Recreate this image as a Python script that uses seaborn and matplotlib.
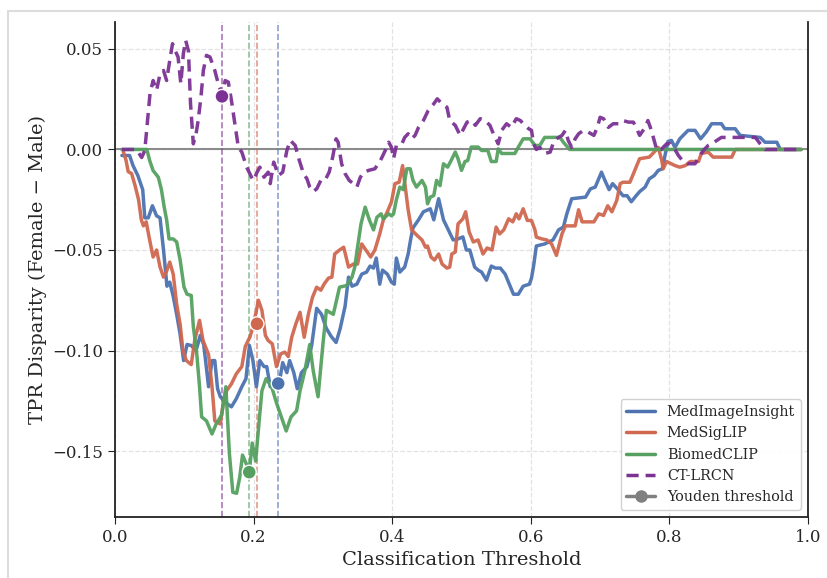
import numpy as np
import pandas as pd
import matplotlib
matplotlib.use("Agg")
import matplotlib.pyplot as plt
import seaborn as sns
from matplotlib.lines import Line2D
from matplotlib.patches import Rectangle

models = ["MedImageInsight", "MedSigLIP", "BiomedCLIP", "CT-LRCN"]
colors = ["#4C72B0", "#D0674F", "#55A060", "#7B3294"]

mii_t = [0.010, 0.021, 0.026, 0.033, 0.040, 0.043, 0.048, 0.054, 0.060, 0.065, 0.070, 0.075, 0.079, 0.084,
         0.089, 0.094, 0.099, 0.104, 0.110, 0.117, 0.123, 0.128, 0.135, 0.140, 0.144, 0.148, 0.152, 0.160,
         0.168, 0.175, 0.183, 0.189, 0.194, 0.199, 0.204, 0.209, 0.215, 0.219, 0.224, 0.231, 0.237, 0.242,
         0.248, 0.252, 0.258, 0.263, 0.269, 0.277, 0.284, 0.291, 0.298, 0.305, 0.312, 0.319, 0.325, 0.332,
         0.337, 0.342, 0.349, 0.356, 0.363, 0.368, 0.373, 0.377, 0.382, 0.386, 0.393, 0.399, 0.403, 0.406,
         0.411, 0.418, 0.423, 0.427, 0.430, 0.438, 0.445, 0.455, 0.460, 0.467, 0.474, 0.481, 0.488, 0.495,
         0.502, 0.507, 0.512, 0.519, 0.524, 0.529, 0.536, 0.543, 0.549, 0.556, 0.563, 0.569, 0.575, 0.582,
         0.589, 0.598, 0.601, 0.604, 0.608, 0.620, 0.632, 0.640, 0.647, 0.652, 0.659, 0.679, 0.686, 0.693,
         0.702, 0.707, 0.713, 0.718, 0.726, 0.733, 0.739, 0.745, 0.752, 0.757, 0.765, 0.771, 0.778, 0.784,
         0.790, 0.793, 0.798, 0.803, 0.808, 0.815, 0.827, 0.837, 0.845, 0.853, 0.861, 0.875, 0.880, 0.895,
         0.902, 0.931, 0.938, 0.955, 0.960, 0.990]
mii_v = [-0.003, -0.003, -0.008, -0.013, -0.020, -0.034, -0.034, -0.028, -0.033, -0.034, -0.050, -0.068, -0.066, -0.073,
         -0.082, -0.092, -0.105, -0.097, -0.0975, -0.100, -0.0925, -0.097, -0.118, -0.105, -0.105, -0.119, -0.123, -0.126,
         -0.128, -0.124, -0.118, -0.114, -0.0975, -0.105, -0.118, -0.105, -0.108, -0.108, -0.118, -0.118, -0.116, -0.106,
         -0.111, -0.105, -0.111, -0.119, -0.111, -0.108, -0.097, -0.079, -0.082, -0.089, -0.093, -0.096, -0.089, -0.078,
         -0.0635, -0.068, -0.067, -0.062, -0.061, -0.058, -0.059, -0.054, -0.067, -0.060, -0.062, -0.066, -0.067, -0.054,
         -0.061, -0.0585, -0.052, -0.044, -0.039, -0.035, -0.031, -0.0295, -0.035, -0.0245, -0.035, -0.040, -0.045, -0.0445,
         -0.0435, -0.050, -0.050, -0.0585, -0.060, -0.061, -0.065, -0.058, -0.059, -0.059, -0.062, -0.067, -0.072, -0.072,
         -0.068, -0.067, -0.064, -0.058, -0.048, -0.047, -0.045, -0.040, -0.0386, -0.032, -0.0245, -0.0237, -0.0196, -0.0187,
         -0.0113, -0.0154, -0.020, -0.017, -0.020, -0.023, -0.023, -0.026, -0.023, -0.021, -0.0187, -0.0146, -0.013, -0.0104,
         -0.0096, -0.004, 0.004, 0.0045, 0.001, 0.0053, 0.0095, 0.0095, 0.0053, 0.0086, 0.0128, 0.0128, 0.0103, 0.0103,
         0.007, 0.006, 0.0036, 0.0036, 0.0, 0.0]

msl_t = [0.012, 0.016, 0.019, 0.024, 0.029, 0.034, 0.038, 0.041, 0.045, 0.050, 0.055, 0.060, 0.065, 0.070,
         0.074, 0.079, 0.084, 0.089, 0.094, 0.098, 0.103, 0.110, 0.115, 0.122, 0.127, 0.135, 0.140, 0.144,
         0.152, 0.156, 0.161, 0.168, 0.175, 0.183, 0.188, 0.195, 0.200, 0.207, 0.212, 0.217, 0.221, 0.227,
         0.233, 0.239, 0.245, 0.250, 0.255, 0.261, 0.267, 0.273, 0.279, 0.285, 0.291, 0.297, 0.302, 0.308,
         0.313, 0.317, 0.324, 0.330, 0.337, 0.344, 0.350, 0.356, 0.362, 0.369, 0.375, 0.382, 0.387, 0.393,
         0.399, 0.404, 0.410, 0.415, 0.420, 0.423, 0.428, 0.436, 0.443, 0.448, 0.451, 0.456, 0.461, 0.467,
         0.472, 0.479, 0.483, 0.486, 0.491, 0.495, 0.502, 0.506, 0.511, 0.517, 0.524, 0.531, 0.537, 0.544,
         0.550, 0.555, 0.561, 0.568, 0.574, 0.579, 0.583, 0.589, 0.595, 0.601, 0.606, 0.608, 0.616, 0.623,
         0.630, 0.637, 0.645, 0.650, 0.664, 0.669, 0.674, 0.691, 0.698, 0.705, 0.711, 0.717, 0.724, 0.729,
         0.733, 0.743, 0.750, 0.757, 0.771, 0.778, 0.784, 0.789, 0.791, 0.796, 0.808, 0.815, 0.823, 0.830,
         0.842, 0.846, 0.856, 0.863, 0.890, 0.895, 0.990]
msl_v = [-0.001, -0.0055, -0.011, -0.012, -0.018, -0.025, -0.035, -0.038, -0.036, -0.045, -0.0535, -0.050, -0.0585, -0.0635,
         -0.061, -0.056, -0.062, -0.077, -0.087, -0.100, -0.105, -0.107, -0.095, -0.085, -0.095, -0.102, -0.118, -0.135,
         -0.1365, -0.1265, -0.120, -0.1166, -0.1116, -0.108, -0.098, -0.093, -0.087, -0.075, -0.080, -0.0925, -0.095, -0.0967,
         -0.108, -0.1017, -0.1008, -0.103, -0.0934, -0.0867, -0.081, -0.0934, -0.082, -0.0735, -0.0685, -0.070, -0.0668, -0.064,
         -0.0635, -0.052, -0.050, -0.0486, -0.0585, -0.057, -0.057, -0.047, -0.050, -0.0535, -0.050, -0.042, -0.0353, -0.031,
         -0.026, -0.017, -0.0163, -0.008, -0.022, -0.030, -0.040, -0.0428, -0.045, -0.0486, -0.048, -0.0535, -0.055, -0.052,
         -0.057, -0.059, -0.0585, -0.052, -0.051, -0.037, -0.0345, -0.031, -0.041, -0.046, -0.045, -0.052, -0.049, -0.050,
         -0.0386, -0.042, -0.040, -0.0345, -0.036, -0.032, -0.0345, -0.0295, -0.0353, -0.0353, -0.040, -0.0436, -0.0445, -0.045,
         -0.047, -0.0527, -0.042, -0.038, -0.038, -0.030, -0.036, -0.036, -0.032, -0.0328, -0.028, -0.031, -0.0254, -0.017,
         -0.0163, -0.0163, -0.0104, -0.0046, -0.0038, -0.0013, 0.001, -0.0055, -0.0096, -0.006, -0.008, -0.0088, -0.008, -0.006,
         -0.006, -0.002, -0.0013, -0.0038, -0.0038, 0.0, 0.0]

bmc_t = [0.010, 0.046, 0.050, 0.055, 0.0625, 0.067, 0.071, 0.0745, 0.078, 0.084, 0.089, 0.094, 0.0996, 0.104,
         0.110, 0.113, 0.118, 0.122, 0.125, 0.132, 0.140, 0.146, 0.154, 0.160, 0.165, 0.170, 0.1755, 0.180,
         0.184, 0.189, 0.194, 0.198, 0.203, 0.208, 0.212, 0.218, 0.226, 0.233, 0.240, 0.247, 0.254, 0.262,
         0.267, 0.274, 0.281, 0.286, 0.293, 0.300, 0.305, 0.315, 0.324, 0.334, 0.342, 0.346, 0.350, 0.355,
         0.361, 0.367, 0.373, 0.378, 0.384, 0.387, 0.395, 0.399, 0.402, 0.406, 0.411, 0.416, 0.421, 0.426,
         0.430, 0.435, 0.443, 0.448, 0.451, 0.455, 0.460, 0.464, 0.469, 0.474, 0.480, 0.485, 0.491, 0.495,
         0.500, 0.505, 0.509, 0.514, 0.524, 0.529, 0.538, 0.543, 0.550, 0.553, 0.558, 0.577, 0.582, 0.589,
         0.599, 0.606, 0.613, 0.620, 0.642, 0.647, 0.656, 0.990]
bmc_v = [0.0, 0.0, -0.0055, -0.0105, -0.0138, -0.020, -0.0287, -0.035, -0.0445, -0.0445, -0.046, -0.055, -0.0685, -0.072,
         -0.0726, -0.088, -0.1017, -0.118, -0.133, -0.135, -0.1415, -0.1365, -0.132, -0.118, -0.151, -0.1705, -0.171, -0.163,
         -0.152, -0.156, -0.160, -0.146, -0.155, -0.135, -0.120, -0.114, -0.118, -0.126, -0.133, -0.140, -0.133, -0.130,
         -0.120, -0.110, -0.097, -0.110, -0.123, -0.097, -0.080, -0.082, -0.0685, -0.0677, -0.0635, -0.0585, -0.0486, -0.037,
         -0.0287, -0.035, -0.040, -0.0337, -0.032, -0.0345, -0.032, -0.033, -0.032, -0.025, -0.0187, -0.020, -0.0096, -0.0096,
         -0.0154, -0.0187, -0.0154, -0.0187, -0.027, -0.0237, -0.0229, -0.0154, -0.018, -0.0071, -0.0088, -0.0055, -0.0013, -0.0046,
         -0.0104, -0.006, -0.0055, 0.0012, 0.0012, -0.0005, -0.0005, -0.006, -0.006, 0.0003, -0.002, -0.002, 0.0012, 0.0053,
         0.0053, 0.002, 0.002, 0.006, 0.006, 0.0036, 0.0, 0.0]

ctl_t = [0.010, 0.031, 0.0385, 0.043, 0.047, 0.0505, 0.055, 0.060, 0.065, 0.070, 0.0745, 0.079, 0.083, 0.087,
         0.091, 0.095, 0.0986, 0.102, 0.106, 0.109, 0.113, 0.117, 0.120, 0.124, 0.1275, 0.132, 0.137, 0.144,
         0.149, 0.155, 0.159, 0.1635, 0.168, 0.173, 0.178, 0.183, 0.190, 0.197, 0.200, 0.205, 0.209, 0.215,
         0.221, 0.224, 0.229, 0.236, 0.242, 0.248, 0.253, 0.260, 0.266, 0.272, 0.277, 0.281, 0.286, 0.291,
         0.297, 0.303, 0.309, 0.314, 0.319, 0.322, 0.327, 0.332, 0.338, 0.344, 0.349, 0.354, 0.359, 0.366,
         0.375, 0.383, 0.390, 0.395, 0.399, 0.402, 0.406, 0.414, 0.418, 0.423, 0.428, 0.433, 0.438, 0.445,
         0.452, 0.460, 0.465, 0.472, 0.479, 0.483, 0.491, 0.498, 0.503, 0.508, 0.515, 0.520, 0.527, 0.534,
         0.541, 0.546, 0.553, 0.558, 0.565, 0.572, 0.579, 0.585, 0.589, 0.597, 0.601, 0.604, 0.608, 0.613,
         0.620, 0.628, 0.632, 0.637, 0.645, 0.650, 0.654, 0.659, 0.664, 0.669, 0.676, 0.683, 0.691, 0.696,
         0.700, 0.705, 0.712, 0.719, 0.727, 0.733, 0.741, 0.748, 0.753, 0.757, 0.765, 0.769, 0.774, 0.778,
         0.782, 0.788, 0.796, 0.801, 0.808, 0.813, 0.820, 0.827, 0.837, 0.842, 0.849, 0.856, 0.861, 0.875,
         0.924, 0.931, 0.938, 0.990]
ctl_v = [0.0, 0.0, -0.004, -0.0005, 0.0144, 0.0277, 0.0343, 0.0294, 0.0376, 0.0393, 0.0343, 0.0443, 0.0526, 0.049,
         0.046, 0.0327, 0.0476, 0.0542, 0.049, 0.0227, 0.0028, 0.0078, 0.0144, 0.026, 0.0393, 0.0468, 0.046, 0.0393,
         0.0327, 0.027, 0.0343, 0.0335, 0.0244, 0.0128, 0.001, -0.0013, -0.0088, -0.0138, -0.0154, -0.0113, -0.0088, -0.0138,
         -0.0113, -0.017, -0.0063, -0.0129, -0.0113, -0.0005, 0.0045, 0.002, -0.0055, -0.012, -0.0146, -0.0187, -0.021, -0.0196,
         -0.0154, -0.0154, -0.0113, -0.004, 0.0053, 0.0036, -0.0071, -0.012, -0.0154, -0.017, -0.0187, -0.0138, -0.0113, -0.0104,
         -0.0096, -0.0055, -0.0005, 0.0036, 0.001, -0.0046, 0.002, 0.0028, 0.006, 0.0078, 0.0053, 0.007, 0.011, 0.0144,
         0.0194, 0.0227, 0.0252, 0.0227, 0.021, 0.0144, 0.012, 0.007, 0.0103, 0.0136, 0.0144, 0.012, 0.0153, 0.0144,
         0.012, 0.0078, 0.0028, 0.0095, 0.0128, 0.011, 0.0153, 0.0144, 0.0128, 0.0103, 0.0095, 0.0028, 0.0, 0.001,
         -0.002, -0.0013, 0.0028, 0.0053, 0.007, 0.0095, 0.0045, 0.001, 0.0053, 0.0078, 0.0095, 0.0086, 0.007, 0.011,
         0.016, 0.0153, 0.011, 0.0128, 0.0128, 0.0144, 0.0136, 0.0136, 0.0103, 0.007, 0.011, 0.0144, 0.0095, 0.0045,
         -0.0005, 0.0, 0.0028, 0.0028, 0.0, -0.003, -0.006, -0.0071, -0.0071, -0.004, -0.0005, 0.002, 0.0028, 0.006,
         0.006, 0.0028, 0.0, 0.0]

youden_t = [0.2355, 0.2049, 0.1937, 0.1544]
youden_v = [-0.1164, -0.0867, -0.1605, 0.0264]

sns.set_style("ticks")
plt.rcParams["font.family"] = ["DejaVu Serif"]
plt.rcParams["axes.unicode_minus"] = True

series = [(mii_t, mii_v), (msl_t, msl_v), (bmc_t, bmc_v), (ctl_t, ctl_v)]
frames = []
for name, (tt, vv) in zip(models, series):
    frames.append(pd.DataFrame({"threshold": tt, "disparity": vv, "model": name}))
df = pd.concat(frames, ignore_index=True)
palette = dict(zip(models, colors))
dashes = {"MedImageInsight": "", "MedSigLIP": "", "BiomedCLIP": "", "CT-LRCN": (3.5, 2.0)}

fig = plt.figure(figsize=(8.28, 5.78), dpi=100)
ax = fig.add_axes([115 / 828, 61 / 578, 693 / 828, 495 / 578])

ax.grid(True, linestyle="--", color="#d0d0d0", alpha=0.6, linewidth=0.9)
ax.axhline(0, color="gray", linewidth=1.5, alpha=0.9, zorder=1.5)

sns.lineplot(data=df, x="threshold", y="disparity", hue="model", style="model",
             palette=palette, dashes=dashes, linewidth=2.5, estimator=None, sort=False,
             legend=False, ax=ax, alpha=0.95)

for t, c in zip(youden_t, colors):
    ax.axvline(t, color=c, linestyle="--", linewidth=1.2, alpha=0.65, zorder=1.8)

sns.scatterplot(x=youden_t, y=youden_v, hue=models, palette=palette, s=100,
                edgecolor="white", linewidth=1.0, zorder=6, legend=False, ax=ax)

ax.set_xlim(0, 1)
ax.set_ylim(-0.1828, 0.0634)
ax.set_xticks([0.0, 0.2, 0.4, 0.6, 0.8, 1.0])
ax.set_yticks([-0.15, -0.10, -0.05, 0.0, 0.05])
ax.set_yticklabels(["−0.15", "−0.10", "−0.05", "0.00", "0.05"])
ax.set_xticklabels(["0.0", "0.2", "0.4", "0.6", "0.8", "1.0"])
ax.tick_params(axis="both", labelsize=12, length=5, color="#222222")
ax.set_xlabel("Classification Threshold", fontsize=14)
ax.set_ylabel("TPR Disparity (Female − Male)", fontsize=14)
ax.spines["top"].set_visible(False)
for s in ["left", "right", "bottom"]:
    ax.spines[s].set_color("#222222")
    ax.spines[s].set_linewidth(1.3)

handles = [Line2D([0], [0], color=colors[0], lw=2.5),
           Line2D([0], [0], color=colors[1], lw=2.5),
           Line2D([0], [0], color=colors[2], lw=2.5),
           Line2D([0], [0], color=colors[3], lw=2.5, linestyle=(0, (3.5, 2.0))),
           Line2D([0], [0], color="gray", lw=2.5, marker="o", markersize=8)]
labels = models + ["Youden threshold"]
ax.legend(handles, labels, loc="lower right", fontsize=10.4, frameon=True, framealpha=0.9)

fig.add_artist(Rectangle((8 / 828, -0.05), 1.2, 1 - 11 / 578 + 0.05, transform=fig.transFigure,
                         fill=False, edgecolor="#dddddd", linewidth=1.5, zorder=-1))

fig.savefig("out.png", dpi=100)
